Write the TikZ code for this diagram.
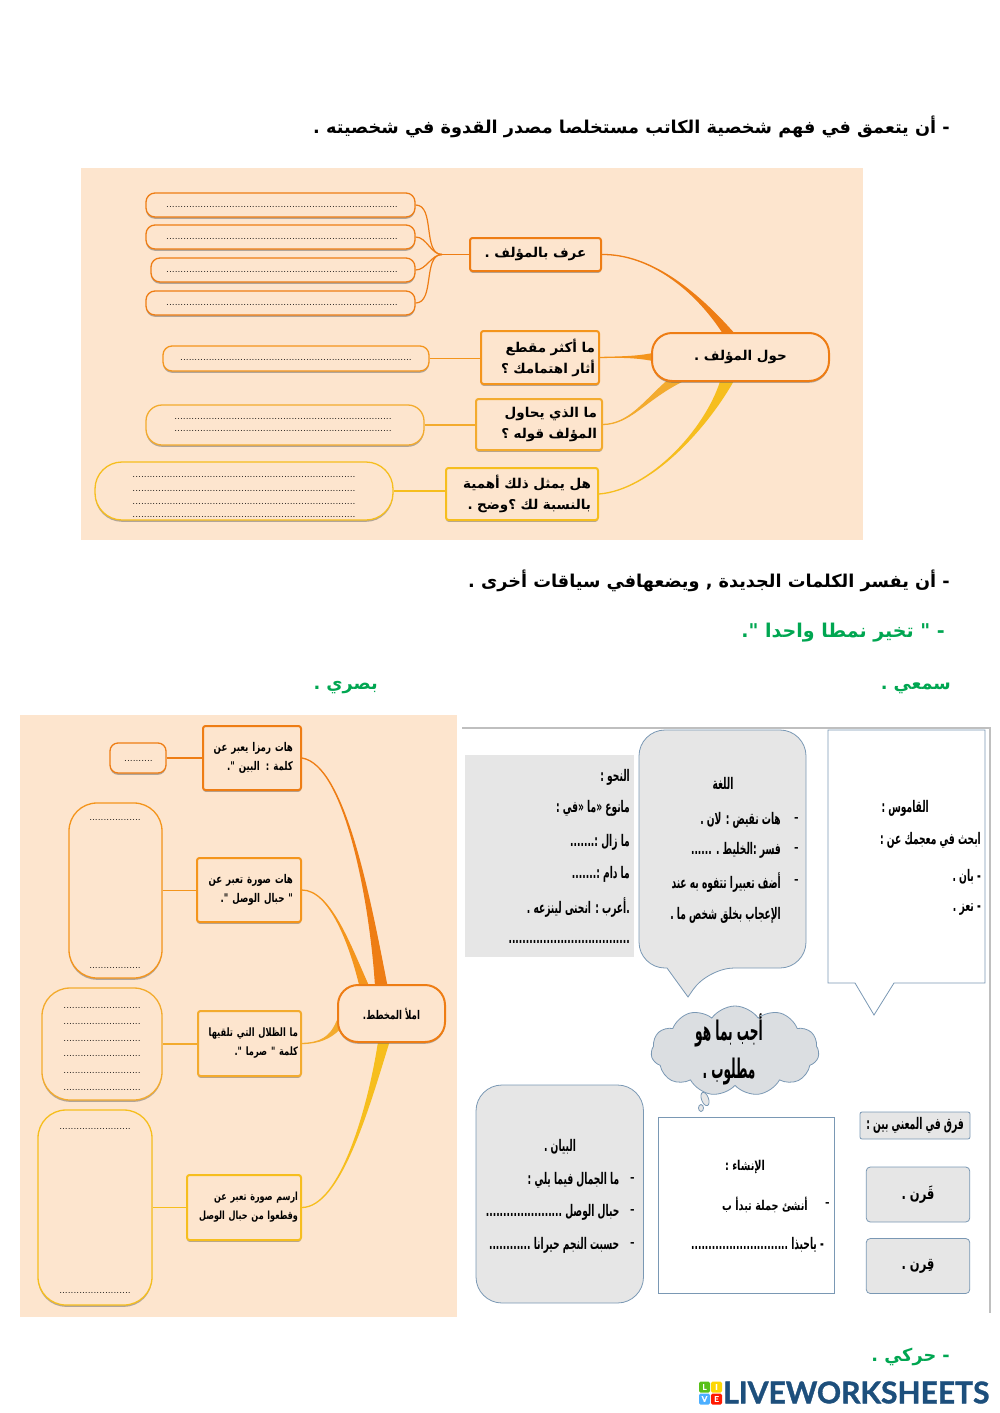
\documentclass[tikz,border=0pt]{standalone}
\usepackage{fontspec}
\usetikzlibrary{calc,shadows,backgrounds,shapes.symbols,shapes.geometric}
\TeXXeTstate=1
\newfontfamily\arabicfont[Script=Arabic]{DejaVu Sans}
\newfontfamily\arabicmid[Script=Arabic,FakeStretch=0.72]{DejaVu Sans}
\newfontfamily\arabicnarrow[Script=Arabic,FakeStretch=0.57]{DejaVu Sans}
\newfontfamily\arabiccloud[Script=Arabic,FakeStretch=0.45]{DejaVu Sans}
\newfontfamily\logofont[BoldFeatures={FakeBold=1.2}]{Lato}
\newcommand{\artext}[1]{\beginR #1\endR}
\newcommand{\dotrow}[1]{\hbox to #1pt{\bfseries\fontsize{6.5}{6.5}\selectfont\dotfill}}
\newcommand{\taper}[6]{\filldraw[#1,line width=1.3pt] (#2.east) .. controls #3 and #4 .. #5 -- #6 .. controls #4 and #3 .. (#2.east) -- cycle;}
\definecolor{panelbg}{HTML}{FDE5CE}
\definecolor{ordark}{HTML}{EE7D14}
\definecolor{ormid}{HTML}{F4951C}
\definecolor{orlight}{HTML}{F3AB2E}
\definecolor{oryellow}{HTML}{F6BE1E}
\definecolor{sheetgreen}{HTML}{00A651}
\definecolor{boxgray}{HTML}{E6E6E6}
\definecolor{boxblue}{HTML}{7A98B4}
\definecolor{logoblue}{HTML}{1D4F7C}
\tikzset{
  softshadow/.style={drop shadow={shadow xshift=0pt,shadow yshift=-1.8pt,fill=black!60,opacity=.5}},
  hubbox/.style={draw=ordark,line width=2pt,fill=panelbg,rounded corners=20pt,softshadow,inner sep=0pt},
  topicbox/.style={line width=2pt,fill=panelbg,rounded corners=2.5pt,softshadow,inner sep=0pt,align=right,
    font=\arabicfont\bfseries\fontsize{13.5}{21}\selectfont},
  topicboxb/.style={topicbox,font=\arabicmid\bfseries\fontsize{12}{19}\selectfont},
  blankbox/.style={line width=1.3pt,fill=panelbg,softshadow,inner sep=0pt},
  wh/.style 2 args={minimum width=#1,minimum height=#2},
  leaf/.style={line width=1.2pt},
  headline/.style={anchor=east,inner sep=0pt,font=\arabicfont\bfseries\fontsize{17.7}{20}\selectfont},
  greenline/.style={headline,text=sheetgreen},
  narrowline/.style={anchor=east,inner sep=0pt,font=\arabicnarrow\bfseries\fontsize{16}{18}\selectfont},
  midline/.style={anchor=east,inner sep=0pt,font=\arabicmid\bfseries\fontsize{13.5}{16}\selectfont},
  bulletline/.style={anchor=east,inner sep=0pt,font=\arabicfont\bfseries\fontsize{11}{12}\selectfont},
  centerline/.style={narrowline,anchor=center},
  callbox/.style={draw=boxblue,line width=0.8pt},
  logosquare/.style={minimum size=11pt,inner sep=0pt,rounded corners=1.5pt,text=white,font=\logofont\bfseries\fontsize{8}{8}\selectfont},
}
\begin{document}
\begin{tikzpicture}[x=1pt,y=-1pt]
\useasboundingbox (0,0) rectangle (1000,1413);

\node[headline] (goalone) at (950,127) {\artext{- أن يتعمق في فهم شخصية الكاتب مستخلصا مصدر القدوة في شخصيته .}};
\node[headline] (goaltwo) at (950,581) {\artext{- أن يفسر الكلمات الجديدة , ويضعهافي سياقات أخرى .}};
\node[greenline,font=\arabicfont\bfseries\fontsize{19}{20}\selectfont] (pattern) at (945,633) {\artext{- " تخير نمطا واحدا ".}};
\node[greenline] (audio) at (951,688) {\artext{سمعي .}};
\node[greenline] (visual) at (378,688) {\artext{بصري .}};
\node[greenline] (motor) at (950,1357) {\artext{- حركي .}};

% first map
\node[hubbox,wh={177}{48},font=\arabicfont\bfseries\fontsize{13.5}{16}\selectfont] (huba) at (740.5,357) {\artext{حول المؤلف .}};
\node[topicbox,draw=ordark,wh={131}{33}] (ta) at (535.5,254.5) {\artext{عرف بالمؤلف .}};
\node[topicbox,draw=ormid,wh={118}{53},text width=110pt] (tb) at (540,357.5) {\artext{ما أكثر مقطع}\\\artext{أثار اهتمامك ؟}};
\node[topicbox,draw=orlight,wh={126}{51},text width=116pt] (tc) at (539,424.5) {\artext{ما الذي يحاول}\\\artext{المؤلف قوله ؟}};
\node[topicbox,draw=oryellow,wh={152}{52},text width=138pt] (td) at (522,494) {\artext{هل يمثل ذلك أهمية}\\\artext{بالنسبة لك ؟وضح .}};
\foreach \nm/\cx/\cy/\w in {pa/280.5/205/269,pb/280.5/237/269,pc/283/270/264,pd/280.5/303/269}
  \node[blankbox,draw=ordark,rounded corners=9pt,wh={\w}{24}] (\nm) at (\cx,\cy) {};
\node[blankbox,draw=ormid,rounded corners=9pt,wh={266}{25}] (pe) at (296,358.5) {};
\node[blankbox,draw=orlight,rounded corners=16pt,wh={278}{40}] (pf) at (285,425) {};
\node[blankbox,draw=oryellow,rounded corners=27pt,wh={298}{58}] (pg) at (244,491) {};
\foreach \y in {207,239,272,305}
  \node[inner sep=0pt] (dotsa\y) at (282,\y) {\dotrow{232}};
\node[inner sep=0pt] (dotse) at (296,360) {\dotrow{232}};
\foreach \y in {419,431}
  \node[inner sep=0pt] (dotsf\y) at (283,\y) {\dotrow{220}};
\foreach \y in {477,491,504,517}
  \node[inner sep=0pt] (dotsg\y) at (244,\y) {\dotrow{224}};
\coordinate (joina) at (442,254.5);
\foreach \nm in {pa,pb,pc,pd}
  \draw[ordark,leaf] (\nm.east) to[out=0,in=180,looseness=.9] (joina);
\draw[ordark,leaf] (joina) -- (ta.west);
\draw[ormid,leaf] (pe.east) -- (pe.east -| tb.west);
\draw[orlight,leaf] (pf.east) -- (pf.east -| tc.west);
\draw[oryellow,leaf] (pg.east) -- (pg.east -| td.west);

% second map
\node[hubbox,wh={107}{57},font=\arabicmid\bfseries\fontsize{12}{14}\selectfont] (hubb) at (391.5,1013.5) {\artext{املأ المخطط.}};
\node[topicboxb,draw=ordark,wh={98}{64},text width=82pt] (ua) at (252,758) {\artext{هات رمزا يعبر عن}\\\artext{كلمة : البين ".}};
\node[topicboxb,draw=ormid,wh={104}{64},text width=88pt] (ub) at (249,890) {\artext{هات صورة تعبر عن}\\\artext{" حبال الوصل ".}};
\node[topicboxb,draw=orlight,wh={103}{65},text width=97pt,font=\arabicmid\bfseries\fontsize{11.5}{19}\selectfont] (uc) at (249.5,1043.5) {\artext{ما الظلال التي تلقيها}\\\artext{كلمة " صرما ".}};
\node[topicboxb,draw=oryellow,wh={114}{65},text width=108pt,font=\arabicmid\bfseries\fontsize{11.2}{19}\selectfont] (ud) at (244,1207.5) {\artext{ارسم صورة تعبر عن}\\\artext{وقطعوا من حبال الوصل}};
\node[blankbox,draw=ordark,rounded corners=8pt,wh={56}{30}] (sa) at (138,758) {};
\node[blankbox,draw=ormid,rounded corners=28pt,wh={93}{175}] (sb) at (115.5,890.5) {};
\node[blankbox,draw=orlight,rounded corners=28pt,wh={120}{112}] (sc) at (102,1044) {};
\node[blankbox,draw=oryellow,rounded corners=28pt,wh={114}{195}] (sd) at (95,1207.5) {};
\node[inner sep=0pt] (dotsa) at (138.5,761) {\dotrow{29}};
\foreach \y in {820,968}
  \node[inner sep=0pt] (dotsb\y) at (115,\y) {\dotrow{52}};
\foreach \y in {1008,1024,1041,1056,1073,1090}
  \node[inner sep=0pt] (dotsc\y) at (102,\y) {\dotrow{80}};
\foreach \y in {1129,1293}
  \node[inner sep=0pt] (dotsd\y) at (95,\y) {\dotrow{73}};
\draw[ordark,leaf] (sa.east) -- (ua.west);
\draw[ormid,leaf] (sb.east) -- (sb.east -| ub.west);
\draw[orlight,leaf] (sc.east) -- (sc.east -| uc.west);
\draw[oryellow,leaf] (sd.east) -- (ud.west);

\begin{scope}[on background layer]
  \fill[panelbg] (81,168) rectangle (863,540);
  \fill[panelbg] (20,715) rectangle (457,1317);
  \taper{ordark}{ta}{(650,254)}{(695,290)}{($(huba.north)+(-18,0)$)}{($(huba.north)+(-8,0)$)}
  \taper{ormid}{tb}{(620,357)}{(635,357)}{($(huba.west)+(0,-3)$)}{($(huba.west)+(0,3)$)}
  \taper{orlight}{tc}{(630,424)}{(645,400)}{($(huba.south)+(-72,-2)$)}{($(huba.south)+(-60,0)$)}
  \taper{oryellow}{td}{(650,490)}{(705,430)}{($(huba.south)+(-20,0)$)}{($(huba.south)+(-8,0)$)}
  \taper{ordark}{ua}{(345,765)}{(370,900)}{($(hubb.north)+(-16,0)$)}{($(hubb.north)+(-5,0)$)}
  \taper{ormid}{ub}{(330,890)}{(350,945)}{($(hubb.north)+(-32,0)$)}{($(hubb.north)+(-24,0)$)}
  \taper{orlight}{uc}{(320,1043)}{(330,1038)}{($(hubb.west)+(0,8)$)}{($(hubb.west)+(2,16)$)}
  \taper{oryellow}{ud}{(340,1207)}{(368,1110)}{($(hubb.south)+(-13,0)$)}{($(hubb.south)+(-3,0)$)}
\end{scope}

% right sheet
\draw[black!25,line width=1.2pt] (462,728) -- (990,728) -- (990,1313);
\fill[boxgray] (465,755) rectangle (634,957);
\foreach \y/\lab in {777/{النحو :},808/{مانوع «ما «في :},842/{ما زال :.......},874/{ما دام :.......},907/{.أعرب : انحنى لينزعه .},942/{...................................}}
  \node[narrowline] (nahw\y) at (630,\y) {\artext{\lab}};

\draw[callbox,fill=boxgray,rounded corners=26pt] (667,968) -- (639,968) -- (639,730) -- (806,730) -- (806,968) -- (708,968) [sharp corners] -- (688,997) -- cycle;
\node[centerline] (lughat) at (723,783) {\artext{اللغة}};
\foreach \y/\lab in {820/{هات نقيض : لان .},850/{فسر :الخليط . ......},882/{أضف تعبيرا تتفوه به عند},915/{الإعجاب بخلق شخص ما .}}
  \node[narrowline] (lugha\y) at (781,\y) {\artext{\lab}};
\foreach \y in {820,850,882}
  \node[bulletline] (lughb\y) at (799,\y) {-};

\draw[callbox,fill=white] (828,730) -- (985,730) -- (985,983) -- (894,983) -- (874,1015) -- (855,983) -- (828,983) -- cycle;
\node[narrowline] (qamust) at (929,808) {\artext{القاموس :}};
\foreach \y/\lab in {840/{ابحث في معجمك عن :},877/{- بان .},910/{- تعز .}}
  \node[narrowline] (qamus\y) at (981,\y) {\artext{\lab}};

\node[cloud,cloud puffs=11,cloud puff arc=110,aspect=1.9,callbox,fill=boxgray!90!boxblue,minimum width=168pt,minimum height=90pt,inner sep=0pt] (cloudq) at (735,1051) {};
\node[inner sep=0pt,align=center,font=\arabiccloud\bfseries\fontsize{27}{38}\selectfont] (cloudt) at (729,1049) {\artext{أجب بما هو}\\\artext{مطلوب .}};
\node[ellipse,callbox,fill=boxgray,minimum width=7pt,minimum height=14pt,inner sep=0pt,rotate=20] (bubblea) at (705,1099) {};
\node[ellipse,callbox,fill=boxgray,minimum width=5pt,minimum height=7pt,inner sep=0pt] (bubbleb) at (701,1108) {};

\node[callbox,fill=boxgray,rounded corners=26pt,minimum width=167.5pt,minimum height=218pt,inner sep=0pt] (bayan) at (559.75,1194) {};
\node[centerline] (bayant) at (560,1147) {\artext{البيان .}};
\foreach \y/\lab in {1180/{ما الجمال فيما يلي :},1212/{حبال الوصل ......................},1245/{حسبت النجم حيرانا ............}}{
  \node[narrowline] (bayan\y) at (619.5,\y) {\artext{\lab}};
  \node[bulletline] (bayanb\y) at (635,\y) {-};
}

\node[callbox,fill=white,minimum width=176pt,minimum height=176pt,inner sep=0pt] (insha) at (746,1205) {};
\node[midline,anchor=center] (inshat) at (745,1167) {\artext{الإنشاء :}};
\node[midline] (inshaa) at (808,1205) {\artext{أنشئ جملة تبدأ ب}};
\node[bulletline] (inshab) at (830,1205) {-};
\node[narrowline] (inshac) at (824,1245) {\artext{- ياحبذا ............................}};

\node[callbox,fill=boxgray,rounded corners=2pt,minimum width=110pt,minimum height=27pt,inner sep=0pt,
  font=\arabicnarrow\bfseries\fontsize{16}{18}\selectfont] (faraq) at (915,1125.5) {\artext{فرق في المعني بين :}};
\node[callbox,fill=boxgray,rounded corners=4pt,minimum width=103.5pt,minimum height=55pt,inner sep=0pt,
  font=\arabicmid\bfseries\fontsize{16}{18}\selectfont] (qarna) at (918,1194.5) {\artext{قَرن .}};
\node[callbox,fill=boxgray,rounded corners=4pt,minimum width=103.5pt,minimum height=55pt,inner sep=0pt,
  font=\arabicmid\bfseries\fontsize{16}{18}\selectfont] (qarnb) at (918,1266) {\artext{قِرن .}};

% logo
\node[logosquare,fill=green!45!olive!90] (logol) at (704.5,1387) {L};
\node[logosquare,fill=yellow!75!orange] (logoi) at (716.5,1387) {I};
\node[logosquare,fill=blue!45!cyan!70] (logov) at (704.5,1399) {V};
\node[logosquare,fill=red!80!orange] (logoe) at (716.5,1399) {E};
\node[anchor=west,inner sep=0pt,text=logoblue,font=\logofont\bfseries\fontsize{30}{32}\selectfont] (logoname) at (723,1392.5) {LIVEWORKSHEETS};
\end{tikzpicture}
\end{document}
